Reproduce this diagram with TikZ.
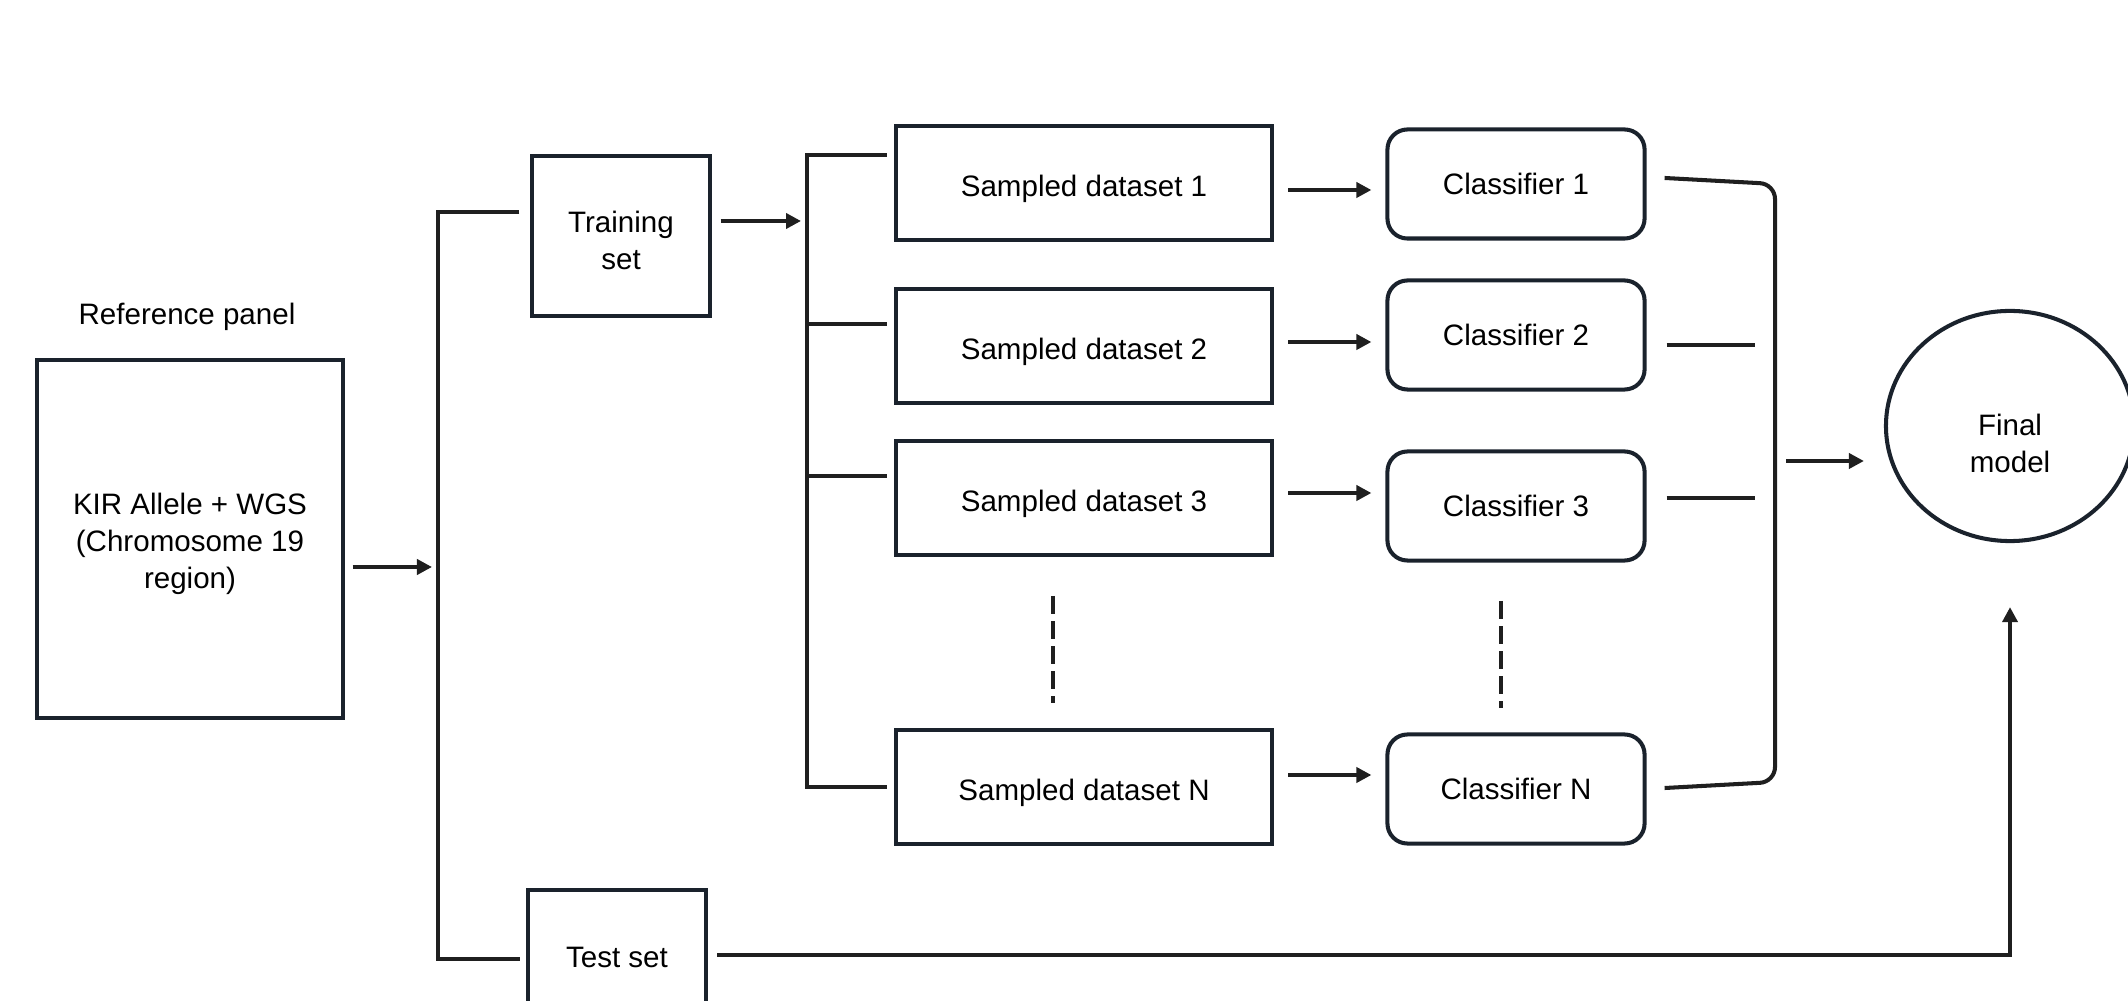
\documentclass[tikz,border=0pt]{standalone}
\usepackage{fontspec}
\setmainfont{Liberation Sans}
\usepackage{tikz}
\usetikzlibrary{positioning}
\usetikzlibrary{arrows.meta}
\usetikzlibrary{shapes}
\usetikzlibrary{calc}
\definecolor{boxline}{RGB}{26,34,44}
\newcommand{\drop}[2]{\raisebox{-#1}[\height][\depth]{\begin{tabular}{@{}c@{}}#2\end{tabular}}}
\tikzset{
  px/.style = {x=0.01cm, y=-0.01cm},
  conn/.style = {line width=1.15pt, color=black!88},
  arr/.style = {conn, -{Triangle[length=1.5mm,width=1.5mm]}},
  sqbox/.style = {draw=boxline, line width=1.15pt, align=center, inner sep=0pt},
  rndbox/.style = {sqbox, rounded corners=0.2cm}
}

\begin{document}
\begin{tikzpicture}[px, font=\fontsize{8.4}{10.5}\selectfont]
  \useasboundingbox (0,0) rectangle (2128,1001);
  \node (panellabel) at (187,317) {Reference panel};
  \node[sqbox, minimum width=3.05cm, minimum height=3.58cm] (panel) at (190,539) {\drop{0.05cm}{KIR Allele + WGS\\(Chromosome 19\\region)}};
  \node[sqbox, minimum width=1.77cm, minimum height=1.59cm] (train) at (621,236) {\drop{0.075cm}{Training\\set}};
  \node[sqbox, minimum width=1.78cm, minimum height=1.34cm] (test) at (617,957) {Test set};
  \foreach \n/\y/\c in {1/183/184, 2/346/335, 3/498/506, N/787/789} {
    \node[sqbox, minimum width=3.76cm, minimum height=1.14cm] (samp\n) at (1084,\y) {\drop{0.065cm}{Sampled dataset \n}};
    \node[rndbox, minimum width=2.57cm, minimum height=1.09cm] (cls\n) at (1516,\c) {\drop{0.03cm}{Classifier \n}};
  }
  \node[sqbox, ellipse, minimum width=2.48cm, minimum height=2.30cm] (final) at (2010,426) {\drop{0.21cm}{Final\\model}};

  \coordinate (split) at (438,567);
  \coordinate (fan) at (807,221);
  \coordinate (join) at (1775,461);

  \draw[arr, shorten <=0.08cm, shorten >=0.06cm] (panel.east |- split) -- (split);
  \draw[conn, shorten <=0.11cm, shorten >=0.06cm] (train.west |- 0,212) -| (split) |- (test.west |- 0,959);
  \draw[arr, shorten <=0.09cm, shorten >=0.06cm] (train.east |- fan) -- (fan);
  \draw[conn, shorten <=0.07cm, shorten >=0.07cm] (samp1.west |- 0,155) -| (fan) |- (sampN.west);
  \foreach \n/\y in {2/324, 3/476}
    \draw[conn, shorten >=0.07cm] (fan |- 0,\y) -- (samp\n.west |- 0,\y);
  \foreach \n/\y in {1/190, 2/342, 3/493, N/775}
    \draw[arr, shorten <=0.14cm, shorten >=0.14cm] (samp\n.east |- 0,\y) -- (cls\n.west |- 0,\y);
  \foreach \x/\y in {1053/596, 1501/601}
    \draw[conn, dash pattern=on 0.18cm off 0.07cm] (\x,\y) -- ++(0,107);
  \draw[conn, rounded corners=0.15cm, shorten <=0.18cm, shorten >=0.18cm] (cls1.east |- 0,177) -- (join |- 0,184) -- (join |- 0,782) -- (clsN.east |- 0,789);
  \foreach \n/\y in {2/345, 3/498}
    \draw[conn, shorten <=0.2cm, shorten >=0.2cm] (cls\n.east |- 0,\y) -- (join |- 0,\y);
  \draw[arr, shorten <=0.11cm, shorten >=0.2cm] (join) -- (final.west |- join);
  \draw[arr, shorten <=0.09cm, shorten >=0.64cm] (test.east |- 0,955) -| (final.south);
\end{tikzpicture}
\end{document}
